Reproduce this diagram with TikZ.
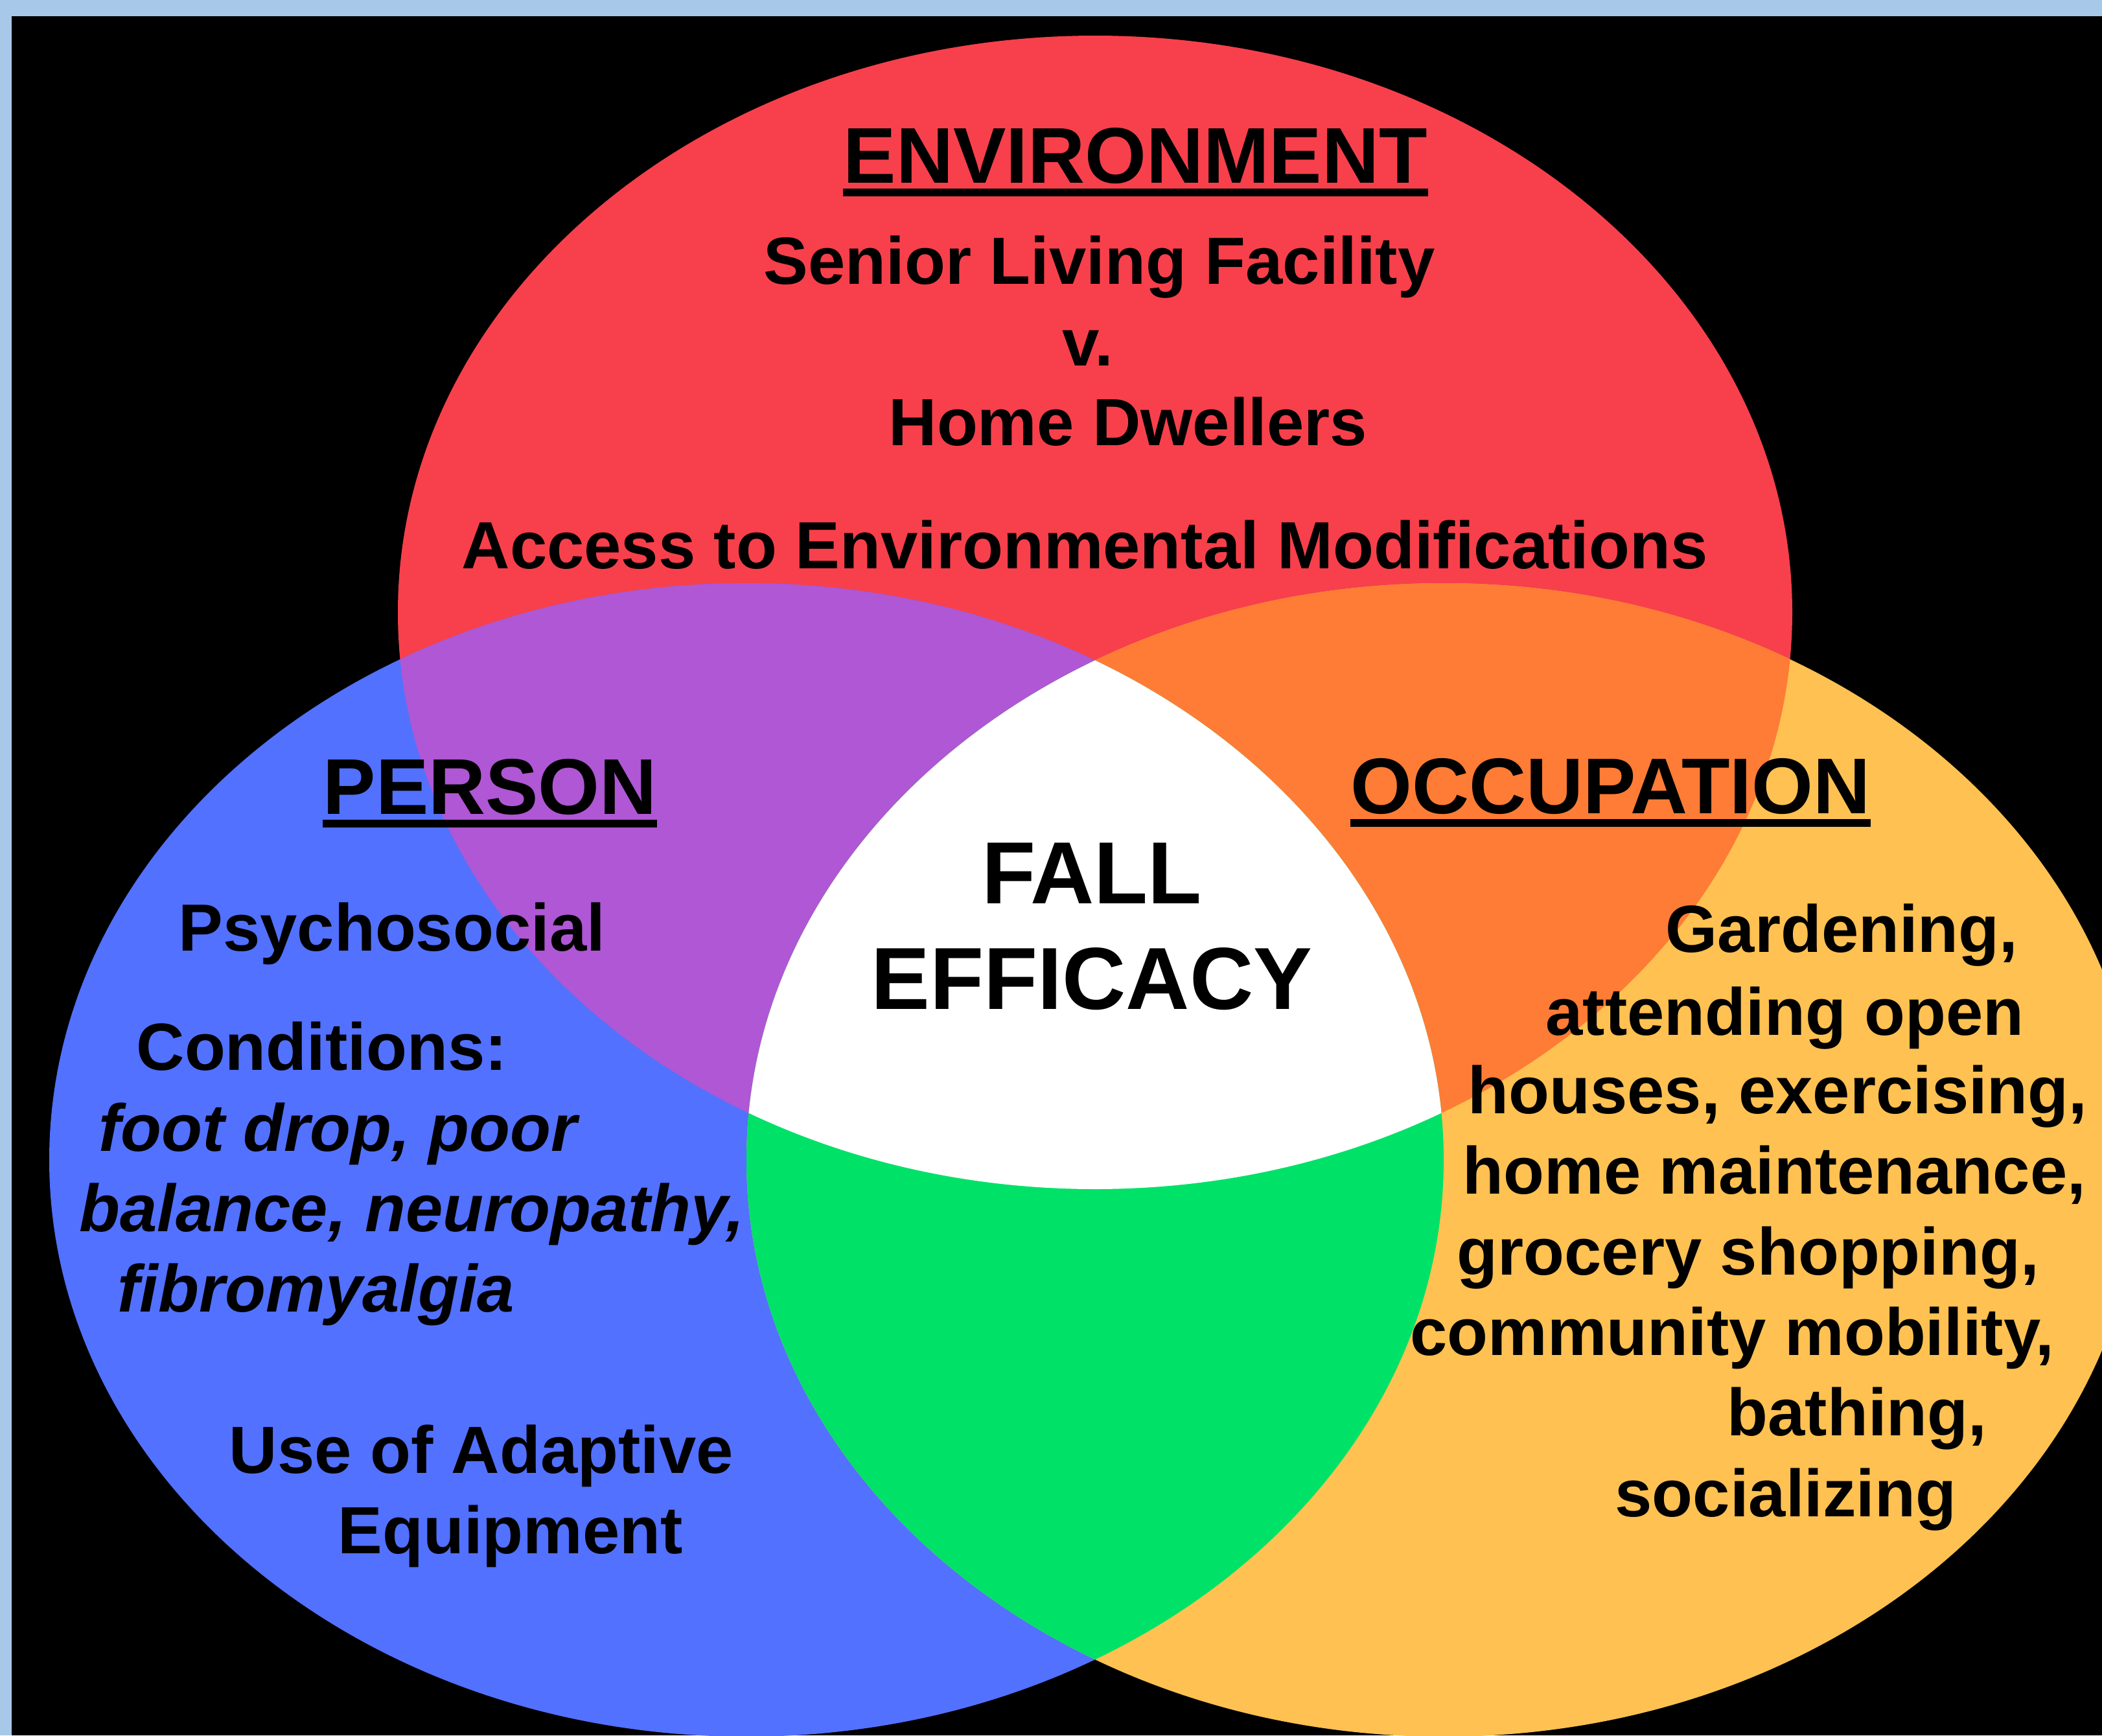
\documentclass[tikz,border=0pt]{standalone}
\usepackage{fontspec}
\setmainfont{Liberation Sans}
\usepackage{tikz}
\usetikzlibrary{positioning,calc}
\usepackage{xcolor}

\definecolor{framebl}{HTML}{A7C8E8}
\definecolor{envred}{HTML}{F7404B}
\definecolor{perblue}{HTML}{5271FF}
\definecolor{occyellow}{HTML}{FEC152}
\definecolor{mixpurple}{HTML}{AF57D4}
\definecolor{mixorange}{HTML}{FE7C35}
\definecolor{mixgreen}{HTML}{00E168}

% the three sets
\def\envset{(16.90,-9.45) ellipse [x radius=10.76, y radius=8.90]}
\def\perset{(11.52,-17.90) ellipse [x radius=10.76, y radius=8.90]}
\def\occset{(22.28,-17.90) ellipse [x radius=10.76, y radius=8.90]}

\begin{document}
\begin{tikzpicture}
\tikzstyle{every node}=[inner sep=0pt, text=black]
\tikzstyle{body} = [anchor=base west, font=\bfseries\fontsize{29.3}{35}\selectfont]
\tikzstyle{slanted} = [body, font=\bfseries\itshape\fontsize{29.3}{35}\selectfont]
\tikzstyle{heading} = [anchor=base west, font=\bfseries\fontsize{34.7}{40}\selectfont]
\tikzstyle{centre} = [anchor=base, font=\bfseries\fontsize{38.7}{44}\selectfont]

\useasboundingbox (0,0) rectangle (32.44,-26.78);
\fill[framebl] (0,0) rectangle (32.44,-26.78);
\fill[black] (0.18,-0.25) rectangle (32.44,-26.78);

% sets and their overlaps
\fill[envred] \envset;
\fill[perblue] \perset;
\fill[occyellow] \occset;
\begin{scope}
  \clip \envset;
  \fill[mixpurple] \perset;
  \fill[mixorange] \occset;
\end{scope}
\begin{scope}
  \clip \perset;
  \fill[mixgreen] \occset;
\end{scope}
\begin{scope}
  \clip \envset;
  \clip \perset;
  \fill[white] \occset;
\end{scope}

% environment
\node[heading] (env)    at (13.01,-2.82)  {ENVIRONMENT};
\node[body]    (senior) at (11.78,-4.385) {Senior Living Facility};
\node[body]    (vs)     at (16.39,-5.64)  {v.};
\node[body]    (home)   at (13.71,-6.87)  {Home Dwellers};
\node[body]    (access) at (7.12,-8.77)   {Access to Environmental Modifications};

% person
\node[heading] (person) at (4.98,-12.56)  {PERSON};
\node[body]    (psycho) at (2.75,-14.67)  {Psychosocial};
\node[body]    (cond)   at (2.10,-16.51)  {Conditions:};
\node[slanted] (foot)   at (1.52,-17.76)  {foot drop, poor};
\node[slanted] (bal)    at (1.22,-19.00)  {balance, neuropathy,};
\node[slanted] (fibro)  at (1.81,-20.24)  {fibromyalgia};
\node[body]    (use)    at (3.53,-22.73)  {Use of Adaptive};
\node[body]    (equip)  at (5.21,-23.97)  {Equipment};

% occupation
\node[heading] (occ)    at (20.84,-12.55) {OCCUPATION};
\node[body]    (garden) at (25.70,-14.69) {Gardening,};
\node[body]    (open)   at (23.85,-15.97) {attending open};
\node[body]    (houses) at (22.65,-17.18) {houses, exercising,};
\node[body]    (maint)  at (22.57,-18.42) {home maintenance,};
\node[body]    (groc)   at (22.48,-19.67) {grocery shopping,};
\node[body]    (comm)   at (21.76,-20.91) {community mobility,};
\node[body]    (bath)   at (26.65,-22.15) {bathing,};
\node[body]    (social) at (24.92,-23.40) {socializing};

% centre
\node[centre] (fall)     at (16.85,-13.94) {FALL};
\node[centre] (efficacy) at (16.85,-15.57) {EFFICACY};

% underline the headings
\foreach \h in {env,person,occ}
  \draw[line width=0.12cm] ($(\h.base west)+(0,-0.15)$) -- ($(\h.base east)+(0,-0.15)$);
\end{tikzpicture}
\end{document}
